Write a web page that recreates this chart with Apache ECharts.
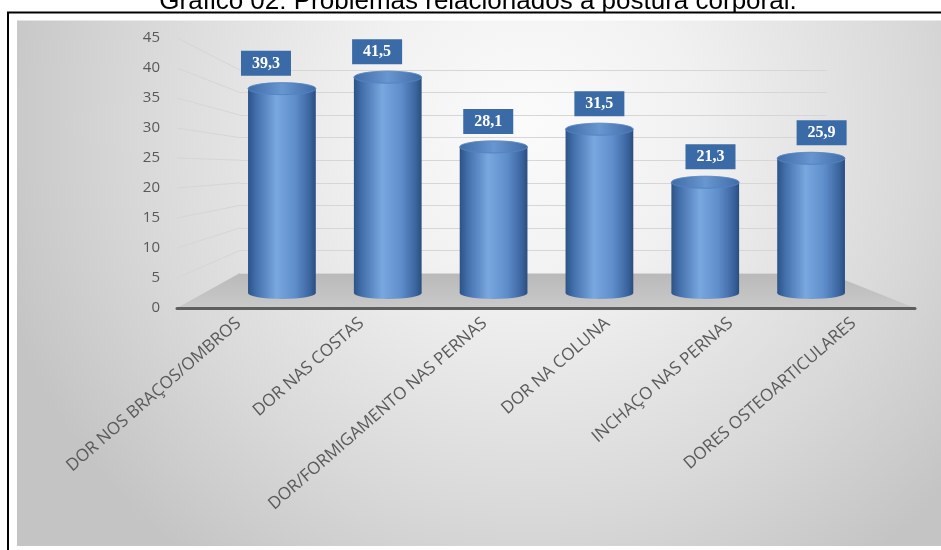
<!DOCTYPE html>
<html>
<head>
<meta charset="utf-8">
<script src="https://cdn.jsdelivr.net/npm/echarts@6/dist/echarts.min.js"></script>
<style>
  html, body { margin: 0; padding: 0; background: #fff; }
  #chart { width: 941px; height: 550px; }
</style>
</head>
<body>
<div id="chart"></div>
<script>
// Chart text and values
const title = 'Gráfico 02: Problemas relacionados à postura corporal.';
const categories = [
  'DOR NOS BRAÇOS/OMBROS',
  'DOR NAS COSTAS',
  'DOR/FORMIGAMENTO NAS PERNAS',
  'DOR NA COLUNA',
  'INCHAÇO NAS PERNAS',
  'DORES OSTEOARTICULARES'
];
const percentages = [39.3, 41.5, 28.1, 31.5, 21.3, 25.9];
const yTicks = [0, 5, 10, 15, 20, 25, 30, 35, 40, 45];

const yMin = yTicks[0];
const yMax = yTicks[yTicks.length - 1];
const yStep = yTicks[1] - yTicks[0];
const fmt = v => v.toFixed(1).replace('.', ',');

const chart = echarts.init(document.getElementById('chart'), null, { renderer: 'canvas' });

// Cylinder side and cap shading
const sideFill = {
  type: 'linear', x: 0, y: 0, x2: 1, y2: 0,
  colorStops: [
    { offset: 0, color: '#2d5386' },
    { offset: 0.12, color: '#436fab' },
    { offset: 0.42, color: '#79a7df' },
    { offset: 0.7, color: '#5e8dcb' },
    { offset: 0.92, color: '#3a639d' },
    { offset: 1, color: '#2a4d7e' }
  ]
};
const capFill = {
  type: 'linear', x: 0, y: 0, x2: 1, y2: 0,
  colorStops: [
    { offset: 0, color: '#3f6ba6' },
    { offset: 0.5, color: '#6896d0' },
    { offset: 1, color: '#3f6ba6' }
  ]
};

function renderCylinder(params, api) {
  const i = api.value(0);
  const v = api.value(1);
  const base = api.coord([i, 0]);
  const top = api.coord([i, v]);
  const rx = api.size([1, 0])[0] * 0.32;
  const ry = 6;
  const cs = params.coordSys;
  // value boxes lean slightly away from the vanishing point
  const vpX = cs.x + cs.width * 0.585;
  const shift = (base[0] - vpX) * 0.05;
  return {
    type: 'group',
    children: [
      { type: 'circle', x: base[0], y: base[1], scaleY: ry / rx,
        shape: { cx: 0, cy: 0, r: rx }, style: { fill: sideFill } },
      { type: 'rect',
        shape: { x: base[0] - rx, y: top[1], width: rx * 2, height: base[1] - top[1] },
        style: { fill: sideFill } },
      { type: 'circle', x: top[0], y: top[1], scaleY: ry / rx,
        shape: { cx: 0, cy: 0, r: rx },
        style: { fill: capFill, stroke: '#5283c2', lineWidth: 1 } },
      { type: 'text', x: top[0] + shift, y: top[1] - ry - 7,
        style: {
          text: fmt(v),
          font: 'bold 16px "Liberation Serif"',
          fill: '#ffffff',
          backgroundColor: '#3a6ba7',
          padding: [5, 11, 4, 11],
          align: 'center',
          verticalAlign: 'bottom'
        } }
    ]
  };
}

const hiddenAxis = {
  axisLine: { show: false }, axisTick: { show: false },
  axisLabel: { show: false }, splitLine: { show: false }
};

const option = {
  backgroundColor: '#ffffff',
  animation: false,
  grid: [
    { left: 177, right: 26, top: 38, height: 270 },   // front plane: axis labels
    { left: 229, right: 77, top: 59, height: 234 },   // cylinders
    { left: 240, right: 114, top: 70, height: 203 }   // back wall
  ],
  xAxis: [
    { type: 'category', gridIndex: 0, data: categories, boundaryGap: true,
      axisLine: { show: true, lineStyle: { color: '#5e5e5e', width: 3 } },
      axisTick: { show: false },
      axisLabel: { rotate: 41, margin: 13, color: '#5a5a5a',
                   fontFamily: 'Open Sans', fontSize: 17, interval: 0 },
      splitLine: { show: false } },
    Object.assign({ type: 'category', gridIndex: 1, data: categories, boundaryGap: true }, hiddenAxis),
    Object.assign({ type: 'category', gridIndex: 2, data: categories, boundaryGap: true }, hiddenAxis)
  ],
  yAxis: [
    { type: 'value', gridIndex: 0, min: yMin, max: yMax, interval: yStep,
      axisLine: { show: false }, axisTick: { show: false },
      axisLabel: { margin: 17, color: '#595959', fontFamily: 'Open Sans', fontSize: 15 },
      splitLine: { show: false } },
    Object.assign({ type: 'value', gridIndex: 1, min: yMin, max: yMax, interval: yStep }, hiddenAxis),
    { type: 'value', gridIndex: 2, min: yMin, max: yMax, interval: yStep,
      axisLine: { show: false }, axisTick: { show: false }, axisLabel: { show: false },
      splitLine: { show: true, lineStyle: { color: '#d6d6d6', width: 1 } } }
  ],
  series: [
    {
      type: 'custom',
      xAxisIndex: 1,
      yAxisIndex: 1,
      z: 3,
      data: percentages.map((v, i) => [i, v]),
      encode: { x: 0, y: 1 },
      renderItem: renderCylinder
    }
  ]
};

chart.setOption(option);

// Scene pieces (backdrop, floor, side wall) placed from the axes' own scales
function bandEdges(axisIndex) {
  const c0 = chart.convertToPixel({ xAxisIndex: axisIndex }, 0);
  const c1 = chart.convertToPixel({ xAxisIndex: axisIndex }, 1);
  const cn = chart.convertToPixel({ xAxisIndex: axisIndex }, categories.length - 1);
  const half = (c1 - c0) / 2;
  return [c0 - half, cn + half];
}
const front = bandEdges(0);
const back = bandEdges(2);
const frontY = v => chart.convertToPixel({ yAxisIndex: 0 }, v);
const backY = v => chart.convertToPixel({ yAxisIndex: 2 }, v);

const elements = [
  { type: 'rect', z: -10, shape: { x: 17, y: 19, width: 930, height: 527 },
    style: { fill: {
      type: 'radial', x: 0.55, y: 0.2, r: 1.05,
      colorStops: [
        { offset: 0, color: '#fbfbfb' },
        { offset: 0.3, color: '#f1f1f1' },
        { offset: 0.7, color: '#d9d9d9' },
        { offset: 1, color: '#c4c4c4' }
      ] } } },
  { type: 'text', z: -9, x: 478, y: 15,
    style: { text: title, font: '26px "Liberation Sans"', fill: '#000000',
             align: 'center', verticalAlign: 'bottom' } },
  { type: 'rect', z: -9, shape: { x: 0, y: 12.5, width: 941, height: 8 },
    style: { fill: '#ffffff' } },
  { type: 'rect', z: -8, shape: { x: 8, y: 12.5, width: 960, height: 560 },
    style: { fill: 'none', stroke: '#000000', lineWidth: 2 } },
  { type: 'polygon', z: -1,
    shape: { points: [
      [front[0], frontY(0)], [front[1], frontY(0)],
      [back[1], backY(0)], [back[0], backY(0)]
    ] },
    style: { fill: {
      type: 'linear', x: 0, y: 0, x2: 0, y2: 1,
      colorStops: [{ offset: 0, color: '#b9b9b9' }, { offset: 1, color: '#c9c9c9' }]
    } } }
];
yTicks.slice(1).forEach(v => {
  elements.push({ type: 'line', z: -1,
    shape: { x1: front[0], y1: frontY(v), x2: back[0], y2: backY(v) },
    style: { stroke: '#d6d6d6', lineWidth: 1 } });
});

chart.setOption({ graphic: { elements: elements } });
</script>
</body>
</html>
